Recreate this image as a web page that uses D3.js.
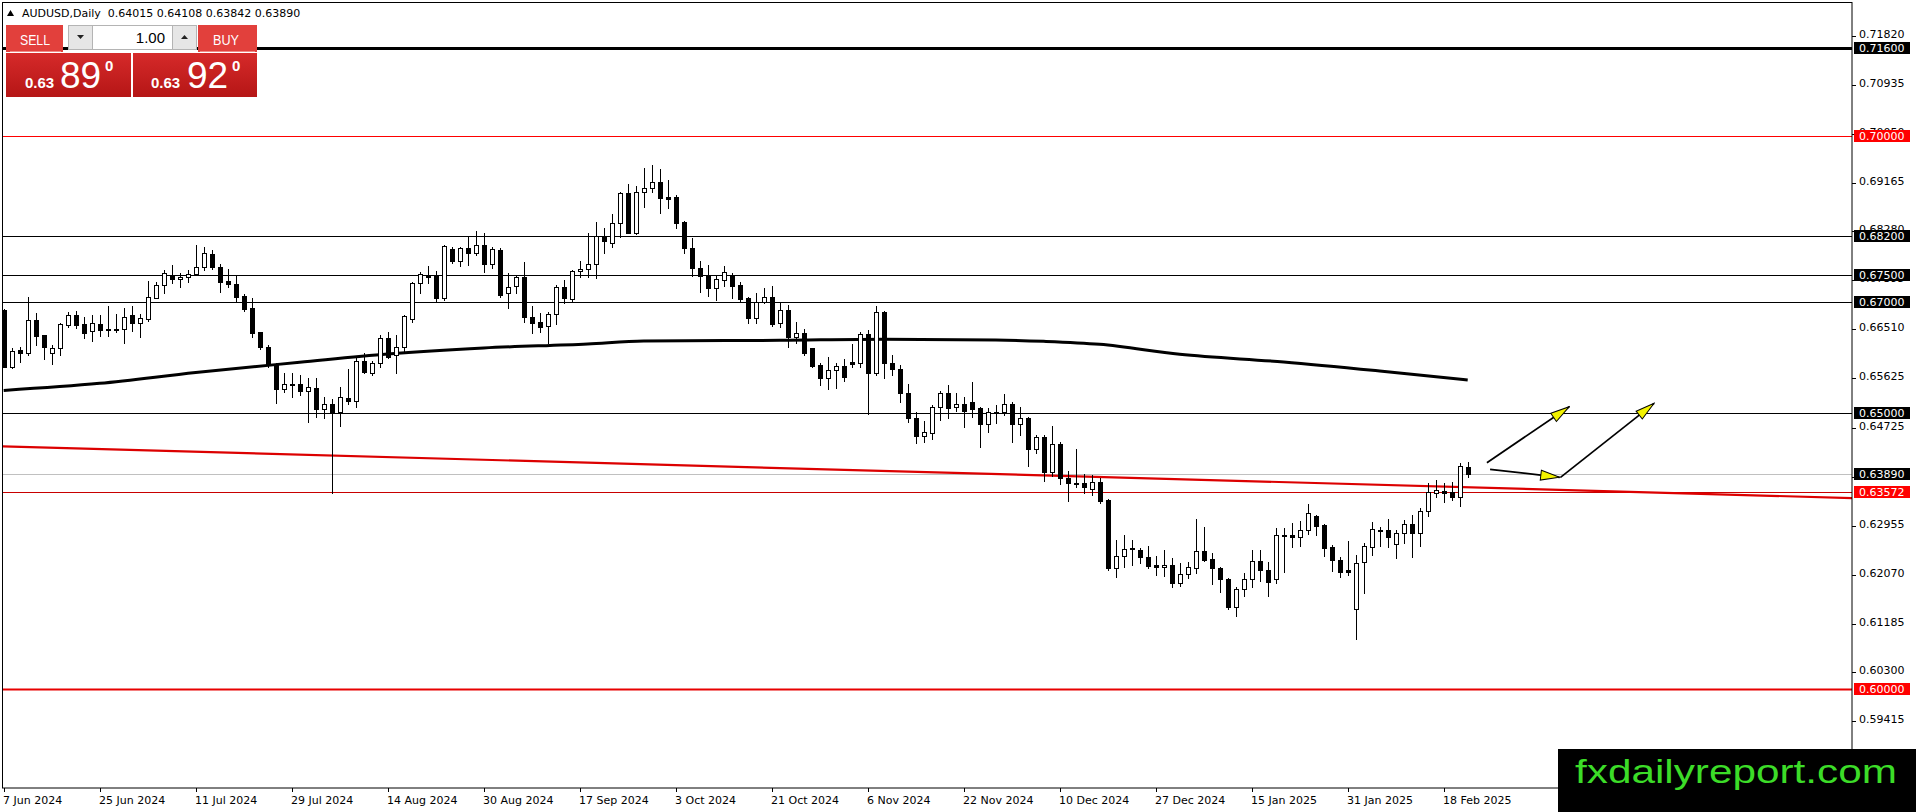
<!DOCTYPE html>
<html>
<head>
<meta charset="utf-8">
<script src="https://cdn.jsdelivr.net/npm/d3@7"></script>
<style>
  body { margin: 0; background: #fff; }
  svg { display: block; }
  text { font-family: "DejaVu Sans", sans-serif; }
  text.arial { font-family: "Liberation Sans", Arial, sans-serif; }
</style>
</head>
<body>
<div id="chart"></div>
<script>
// DATA (daily bars, AUDUSD)

var dateLabels = ["7 Jun 2024", "25 Jun 2024", "11 Jul 2024", "29 Jul 2024", "14 Aug 2024", "30 Aug 2024",
  "17 Sep 2024", "3 Oct 2024", "21 Oct 2024", "6 Nov 2024", "22 Nov 2024", "10 Dec 2024",
  "27 Dec 2024", "15 Jan 2025", "31 Jan 2025", "18 Feb 2025"];
var dateLabelBars = [0, 12, 24, 36, 48, 60, 72, 84, 96, 108, 120, 132, 144, 156, 168, 180];

var open = [
  0.66859, 0.65833, 0.66135, 0.66087, 0.66678, 0.66406, 0.66087, 0.66165, 0.66593, 0.66762,
  0.66605, 0.66485, 0.66599, 0.66515, 0.66503, 0.66509, 0.66762, 0.66630, 0.66696, 0.67082,
  0.67311, 0.67492, 0.67414, 0.67450, 0.67504, 0.67631, 0.67872, 0.67631, 0.67384, 0.67329,
  0.67112, 0.66889, 0.66455, 0.66183, 0.65864, 0.65424, 0.65514, 0.65513, 0.65399, 0.65441,
  0.65061, 0.65151, 0.65013, 0.65260, 0.65218, 0.65942, 0.65725, 0.65893, 0.66346, 0.66038,
  0.66183, 0.66690, 0.67341, 0.67486, 0.67486, 0.67070, 0.67956, 0.67751, 0.67974, 0.67884,
  0.68035, 0.67685, 0.67944, 0.67160, 0.67293, 0.67450, 0.66726, 0.66647, 0.66569, 0.66786,
  0.67269, 0.67052, 0.67558, 0.67594, 0.67685, 0.68174, 0.68065, 0.68427, 0.68970, 0.68258,
  0.69000, 0.69060, 0.69169, 0.68897, 0.68897, 0.68445, 0.67975, 0.67613, 0.67492, 0.67251,
  0.67402, 0.67492, 0.67311, 0.67082, 0.66708, 0.67009, 0.67100, 0.66617, 0.66859, 0.66376,
  0.66436, 0.66165, 0.65863, 0.65622, 0.65773, 0.65845, 0.65918, 0.65894, 0.66424, 0.65725,
  0.66830, 0.65906, 0.65785, 0.65363, 0.64899, 0.64579, 0.64627, 0.65110, 0.65351, 0.65098,
  0.65152, 0.65188, 0.65080, 0.64790, 0.65019, 0.65019, 0.65152, 0.64790, 0.64899, 0.64338,
  0.64567, 0.63934, 0.64428, 0.63813, 0.63728, 0.63722, 0.63614, 0.63740, 0.63421, 0.62184,
  0.62407, 0.62546, 0.62516, 0.62383, 0.62245, 0.62202, 0.62245, 0.61912, 0.62075, 0.62184,
  0.62497, 0.62352, 0.62196, 0.61985, 0.61490, 0.61804, 0.61985, 0.62316, 0.62154, 0.61985,
  0.62787, 0.62787, 0.62757, 0.62877, 0.63131, 0.62968, 0.62576, 0.62334, 0.62154, 0.61442,
  0.62304, 0.62576, 0.62877, 0.62877, 0.62618, 0.62817, 0.62980, 0.62829, 0.63221, 0.63541,
  0.63589, 0.63571, 0.63481, 0.64015];
var high = [
  0.66871, 0.66165, 0.66195, 0.67100, 0.66799, 0.66406, 0.66225, 0.66630, 0.66829, 0.66847,
  0.66738, 0.66768, 0.66768, 0.66931, 0.66786, 0.66889, 0.66931, 0.66786, 0.67384, 0.67372,
  0.67583, 0.67673, 0.67522, 0.67583, 0.68035, 0.67993, 0.67945, 0.67691, 0.67595, 0.67492,
  0.67148, 0.67070, 0.66467, 0.66225, 0.65894, 0.65725, 0.65725, 0.65682, 0.65622, 0.65634,
  0.65290, 0.65242, 0.65459, 0.65785, 0.66014, 0.66086, 0.65942, 0.66406, 0.66467, 0.66406,
  0.66768, 0.67371, 0.67552, 0.67661, 0.67570, 0.68035, 0.68005, 0.68005, 0.68173, 0.68288,
  0.68246, 0.68005, 0.67974, 0.67534, 0.67492, 0.67733, 0.66931, 0.66810, 0.66828, 0.67311,
  0.67401, 0.67582, 0.67745, 0.68258, 0.68457, 0.68336, 0.68596, 0.69000, 0.69139, 0.69103,
  0.69434, 0.69483, 0.69404, 0.69211, 0.68940, 0.68475, 0.68156, 0.67745, 0.67673, 0.67474,
  0.67655, 0.67522, 0.67371, 0.67100, 0.67160, 0.67251, 0.67293, 0.66979, 0.66949, 0.66648,
  0.66509, 0.66165, 0.65894, 0.66002, 0.65894, 0.65966, 0.66243, 0.66467, 0.66497, 0.66931,
  0.66847, 0.66045, 0.65864, 0.65520, 0.65019, 0.64856, 0.65140, 0.65399, 0.65502, 0.65363,
  0.65279, 0.65562, 0.65110, 0.65080, 0.65140, 0.65339, 0.65200, 0.65110, 0.64929, 0.64597,
  0.64597, 0.64760, 0.64476, 0.63952, 0.64338, 0.63891, 0.63873, 0.63813, 0.63433, 0.62697,
  0.62788, 0.62697, 0.62546, 0.62588, 0.62407, 0.62516, 0.62365, 0.62274, 0.62304, 0.63070,
  0.62926, 0.62455, 0.62214, 0.62003, 0.61852, 0.62105, 0.62515, 0.62515, 0.62304, 0.62908,
  0.62908, 0.62998, 0.63046, 0.63348, 0.63149, 0.62986, 0.62606, 0.62383, 0.62684, 0.62425,
  0.62648, 0.63028, 0.62938, 0.63070, 0.62877, 0.63058, 0.63149, 0.63269, 0.63722, 0.63782,
  0.63734, 0.63740, 0.64084, 0.64108];
var low = [
  0.65821, 0.65803, 0.65924, 0.66044, 0.66225, 0.65966, 0.65882, 0.66044, 0.66557, 0.66527,
  0.66358, 0.66304, 0.66388, 0.66388, 0.66467, 0.66256, 0.66485, 0.66376, 0.66666, 0.67070,
  0.67160, 0.67341, 0.67281, 0.67372, 0.67492, 0.67583, 0.67595, 0.67191, 0.67269, 0.67022,
  0.66847, 0.66364, 0.66159, 0.65833, 0.65182, 0.65381, 0.65291, 0.65320, 0.64838, 0.64928,
  0.64898, 0.63541, 0.64759, 0.65157, 0.65109, 0.65713, 0.65682, 0.65833, 0.65984, 0.65725,
  0.66104, 0.66647, 0.67172, 0.67341, 0.67021, 0.67040, 0.67715, 0.67661, 0.67673, 0.67854,
  0.67552, 0.67613, 0.67100, 0.66901, 0.67172, 0.66647, 0.66448, 0.66466, 0.66267, 0.66605,
  0.66979, 0.67028, 0.67450, 0.67462, 0.67432, 0.67884, 0.68005, 0.68186, 0.68246, 0.68234,
  0.68729, 0.69000, 0.68608, 0.68698, 0.68349, 0.67896, 0.67474, 0.67190, 0.67118, 0.67040,
  0.67293, 0.67070, 0.67028, 0.66629, 0.66629, 0.66979, 0.66569, 0.66557, 0.66183, 0.66255,
  0.66044, 0.65833, 0.65501, 0.65423, 0.65441, 0.65580, 0.65833, 0.65833, 0.64970, 0.65682,
  0.65622, 0.65683, 0.65200, 0.64838, 0.64446, 0.64476, 0.64519, 0.64868, 0.64899, 0.65037,
  0.64748, 0.64917, 0.64386, 0.64657, 0.64820, 0.64959, 0.64476, 0.64597, 0.64042, 0.64265,
  0.63771, 0.63855, 0.63704, 0.63409, 0.63662, 0.63553, 0.63511, 0.63360, 0.62154, 0.62034,
  0.62214, 0.62245, 0.62287, 0.62184, 0.62064, 0.62046, 0.61840, 0.61864, 0.62003, 0.62105,
  0.62322, 0.61900, 0.61761, 0.61442, 0.61327, 0.61683, 0.61852, 0.61961, 0.61683, 0.61924,
  0.62123, 0.62576, 0.62588, 0.62805, 0.62787, 0.62407, 0.62141, 0.62033, 0.62063, 0.60905,
  0.61743, 0.62425, 0.62588, 0.62576, 0.62377, 0.62648, 0.62395, 0.62588, 0.63131, 0.63469,
  0.63390, 0.63420, 0.63318, 0.63842];
var close = [
  0.65833, 0.66123, 0.66087, 0.66678, 0.66388, 0.66183, 0.66165, 0.66605, 0.66762, 0.66593,
  0.66449, 0.66618, 0.66497, 0.66503, 0.66515, 0.66726, 0.66630, 0.66708, 0.67088, 0.67311,
  0.67522, 0.67414, 0.67450, 0.67510, 0.67631, 0.67884, 0.67631, 0.67372, 0.67323, 0.67100,
  0.66883, 0.66449, 0.66183, 0.65864, 0.65424, 0.65514, 0.65496, 0.65399, 0.65459, 0.65061,
  0.65151, 0.65007, 0.65278, 0.65218, 0.65942, 0.65743, 0.65893, 0.66346, 0.66014, 0.66183,
  0.66750, 0.67341, 0.67510, 0.67462, 0.67070, 0.68017, 0.67751, 0.67974, 0.67884, 0.68035,
  0.67685, 0.67956, 0.67130, 0.67281, 0.67450, 0.66738, 0.66629, 0.66557, 0.66786, 0.67269,
  0.67082, 0.67564, 0.67594, 0.67685, 0.68198, 0.68113, 0.68427, 0.68970, 0.68258, 0.69000,
  0.69060, 0.69169, 0.68879, 0.68873, 0.68439, 0.67987, 0.67613, 0.67480, 0.67251, 0.67414,
  0.67552, 0.67299, 0.67058, 0.66708, 0.67003, 0.67100, 0.66605, 0.66859, 0.66376, 0.66436,
  0.66074, 0.65845, 0.65622, 0.65773, 0.65845, 0.65640, 0.65875, 0.66424, 0.65725, 0.66828,
  0.65894, 0.65785, 0.65363, 0.64899, 0.64579, 0.64657, 0.65110, 0.65351, 0.65092, 0.65152,
  0.65037, 0.65074, 0.64790, 0.65019, 0.65001, 0.65152, 0.64790, 0.64899, 0.64338, 0.64567,
  0.63934, 0.64428, 0.63813, 0.63722, 0.63716, 0.63650, 0.63740, 0.63409, 0.62184, 0.62407,
  0.62528, 0.62528, 0.62383, 0.62227, 0.62202, 0.62245, 0.61925, 0.62075, 0.62202, 0.62497,
  0.62334, 0.62184, 0.61985, 0.61490, 0.61804, 0.61985, 0.62316, 0.62154, 0.61942, 0.62787,
  0.62769, 0.62757, 0.62877, 0.63179, 0.62956, 0.62558, 0.62334, 0.62123, 0.62123, 0.62286,
  0.62588, 0.62889, 0.62865, 0.62757, 0.62817, 0.62980, 0.62829, 0.63221, 0.63559, 0.63601,
  0.63553, 0.63481, 0.64030, 0.63890];

// moving average read at a few bars
var maBars = [0, 12, 24, 37, 48, 60, 73, 80, 97, 110, 124, 130, 137, 147, 160, 172, 183];
var maValues = [0.65404, 0.65532, 0.65728, 0.65912, 0.66062, 0.66171, 0.66244, 0.66298, 0.66310,
  0.66329, 0.66316, 0.66292, 0.66238, 0.66057, 0.65918, 0.65755, 0.65592];

// price levels drawn on the chart
var levelPrices = [0.71600, 0.70000, 0.68200, 0.67500, 0.67000, 0.65000, 0.63890, 0.63572, 0.60000];
var levelKinds = ["heavy", "red", "line", "line", "line", "line", "bid", "darkred", "redwide"];

// trend line anchors [bar, price]
var trendBars = [0, 183];
var trendPrices = [0.64392, 0.63650];

// arrows [bar, price] start and end
var arrowFrom = [[185.4, 0.64095], [185.8, 0.63976], [194.6, 0.63831]];
var arrowTo = [[195.7, 0.65109], [194.5, 0.63831], [206.3, 0.65170]];

// price axis tick labels
var priceTicks = [0.71820, 0.70935, 0.70050, 0.69165, 0.68280, 0.67395, 0.66510, 0.65625,
  0.64725, 0.63840, 0.62955, 0.62070, 0.61185, 0.60300, 0.59415];

var header = "AUDUSD,Daily  0.64015 0.64108 0.63842 0.63890";


// SETUP

var width = 1916;
var height = 812;
var plotRight = 1852;
var plotBottom = 788;

var svg = d3.select("#chart").append("svg")
  .attr("width", width)
  .attr("height", height);

svg.append("rect").attr("width", width).attr("height", height).attr("fill", "#fff");

var defs = svg.append("defs");

var x = d3.scaleLinear()
  .domain([0, 231])
  .range([3.7, 1851.7]);

var y = d3.scaleLinear()
  .domain([0.600, 0.716])
  .range([689, 48]);

defs.append("clipPath").attr("id", "plotclip")
  .append("rect")
  .attr("x", 3).attr("y", 3)
  .attr("width", plotRight - 3).attr("height", plotBottom - 3);

var plot = svg.append("g").attr("clip-path", "url(#plotclip)");

var levelStyle = {
  heavy:   {color: "#000", w: 3, box: "#000"},
  red:     {color: "#ff0000", w: 1, box: "#ff0000"},
  line:    {color: "#000", w: 1, box: "#000"},
  bid:     {color: "#c0c0c0", w: 1, box: "#000"},
  darkred: {color: "#c80000", w: 1, box: "#ff0000"},
  redwide: {color: "#e80000", w: 2, box: "#ff0000"}
};

function py(p) { return Math.round(y(p)) + 0.5; }


// LEVEL LINES

plot.selectAll("line.level").data(levelPrices)
  .enter().append("line")
  .attr("class", "level")
  .attr("x1", 0).attr("x2", plotRight)
  .attr("y1", function(d) { return py(d); })
  .attr("y2", function(d) { return py(d); })
  .attr("stroke", function(d, i) { return levelStyle[levelKinds[i]].color; })
  .attr("stroke-width", function(d, i) { return levelStyle[levelKinds[i]].w; });


// TREND LINE (ray to the right edge)

var slope = (trendPrices[1] - trendPrices[0]) / (trendBars[1] - trendBars[0]);
var tLeft = x.invert(0), tRight = x.invert(plotRight);
plot.append("line")
  .attr("x1", x(tLeft))
  .attr("y1", y(trendPrices[0] + slope * (tLeft - trendBars[0])))
  .attr("x2", x(tRight))
  .attr("y2", y(trendPrices[0] + slope * (tRight - trendBars[0])))
  .attr("stroke", "#dc0000")
  .attr("stroke-width", 2.2);


// MOVING AVERAGE

var maLine = d3.line()
  .x(function(d, i) { return x(maBars[i]); })
  .y(function(d) { return y(d); })
  .curve(d3.curveMonotoneX);

plot.append("path")
  .attr("d", maLine(maValues))
  .attr("fill", "none")
  .attr("stroke", "#000")
  .attr("stroke-width", 3);


// CANDLES

var candles = plot.selectAll("g.bar").data(open)
  .enter().append("g")
  .attr("class", "bar");

candles.append("line")
  .attr("x1", function(d, i) { return Math.round(x(i)) + 0.5; })
  .attr("x2", function(d, i) { return Math.round(x(i)) + 0.5; })
  .attr("y1", function(d, i) { return Math.round(y(high[i])); })
  .attr("y2", function(d, i) { return Math.round(y(low[i])) + 1; })
  .attr("stroke", "#000")
  .attr("stroke-width", 1);

candles.append("rect")
  .attr("x", function(d, i) { return Math.round(x(i)) - 2 + 0.5; })
  .attr("y", function(d, i) { return Math.round(y(Math.max(open[i], close[i]))) + 0.5; })
  .attr("width", 4)
  .attr("height", function(d, i) {
    return Math.max(0, Math.round(y(Math.min(open[i], close[i]))) - Math.round(y(Math.max(open[i], close[i]))));
  })
  .attr("fill", function(d, i) { return close[i] < open[i] ? "#000" : "#fff"; })
  .attr("stroke", "#000")
  .attr("stroke-width", 1);


// ARROWS

defs.append("marker")
  .attr("id", "head")
  .attr("viewBox", "0 0 21 12")
  .attr("refX", 20).attr("refY", 6)
  .attr("markerWidth", 21).attr("markerHeight", 12)
  .attr("markerUnits", "userSpaceOnUse")
  .attr("orient", "auto")
  .append("path")
  .attr("d", "M1,1 L20,6 L1,11 Z")
  .attr("fill", "#f2f200")
  .attr("stroke", "#000")
  .attr("stroke-width", 1);

plot.selectAll("line.arrow").data(arrowFrom)
  .enter().append("line")
  .attr("class", "arrow")
  .attr("x1", function(d) { return x(d[0]); })
  .attr("y1", function(d) { return y(d[1]); })
  .attr("x2", function(d, i) { return x(arrowTo[i][0]); })
  .attr("y2", function(d, i) { return y(arrowTo[i][1]); })
  .attr("stroke", "#000")
  .attr("stroke-width", 1.7)
  .attr("marker-end", "url(#head)");


// FRAME

svg.append("rect")
  .attr("x", 2.5).attr("y", 2.5)
  .attr("width", plotRight - 2.5).attr("height", plotBottom - 2.5)
  .attr("fill", "none")
  .attr("stroke", "#000")
  .attr("stroke-width", 1);


// PRICE AXIS

var yTicks = svg.append("g");
yTicks.selectAll("line").data(priceTicks)
  .enter().append("line")
  .attr("x1", plotRight).attr("x2", plotRight + 4)
  .attr("y1", function(d) { return py(d); })
  .attr("y2", function(d) { return py(d); })
  .attr("stroke", "#000");
yTicks.selectAll("text").data(priceTicks)
  .enter().append("text")
  .attr("x", plotRight + 7)
  .attr("y", function(d) { return y(d) + 2; })
  .style("font-size", "11px")
  .attr("fill", "#000")
  .text(function(d) { return d.toFixed(5); });

var boxes = svg.selectAll("g.lvl").data(levelPrices)
  .enter().append("g").attr("class", "lvl");
boxes.append("rect")
  .attr("x", plotRight + 2)
  .attr("y", function(d) { return Math.round(y(d)) - 6; })
  .attr("width", 56).attr("height", 12)
  .attr("fill", function(d, i) { return levelStyle[levelKinds[i]].box; });
boxes.append("text")
  .attr("x", plotRight + 7)
  .attr("y", function(d) { return Math.round(y(d)) + 4; })
  .style("font-size", "11px")
  .attr("fill", "#fff")
  .text(function(d) { return d.toFixed(5); });


// DATE AXIS

var xTicks = svg.append("g");
xTicks.selectAll("line").data(dateLabelBars)
  .enter().append("line")
  .attr("x1", function(d) { return Math.round(x(d)) + 0.5; })
  .attr("x2", function(d) { return Math.round(x(d)) + 0.5; })
  .attr("y1", plotBottom).attr("y2", plotBottom + 4)
  .attr("stroke", "#000");
xTicks.selectAll("text").data(dateLabelBars)
  .enter().append("text")
  .attr("x", function(d) { return Math.round(x(d)) - 1; })
  .attr("y", 804)
  .style("font-size", "11px")
  .attr("fill", "#000")
  .text(function(d, i) { return dateLabels[i]; });


// HEADER

svg.append("path").attr("d", "M7,16 L14,16 L10.5,10 Z").attr("fill", "#000");
svg.append("text")
  .attr("x", 22).attr("y", 17)
  .style("font-size", "11px")
  .attr("fill", "#000")
  .attr("xml:space", "preserve")
  .text(header);


// ONE CLICK PANEL

var grad = defs.append("linearGradient")
  .attr("id", "pricegrad").attr("x1", 0).attr("y1", 0).attr("x2", 0).attr("y2", 1);
grad.append("stop").attr("offset", "0%").attr("stop-color", "#d62a2a");
grad.append("stop").attr("offset", "100%").attr("stop-color", "#b51616");

var panel = svg.append("g");

// labels
panel.append("rect").attr("x", 6).attr("y", 25).attr("width", 57).attr("height", 27).attr("fill", "#e2403c");
panel.append("rect").attr("x", 198).attr("y", 25).attr("width", 59).attr("height", 27).attr("fill", "#e2403c");
panel.append("line").attr("x1", 10).attr("x2", 61).attr("y1", 51.5).attr("y2", 51.5).attr("stroke", "#f08a86");
panel.append("line").attr("x1", 200).attr("x2", 255).attr("y1", 51.5).attr("y2", 51.5).attr("stroke", "#f08a86");
panel.append("text").attr("class", "arial").attr("x", 20).attr("y", 45).attr("fill", "#fff")
  .style("font-size", "15px").attr("textLength", 30).attr("lengthAdjust", "spacingAndGlyphs").text("SELL");
panel.append("text").attr("class", "arial").attr("x", 213).attr("y", 45).attr("fill", "#fff")
  .style("font-size", "15px").attr("textLength", 26).attr("lengthAdjust", "spacingAndGlyphs").text("BUY");

// lot spinner
panel.append("rect").attr("x", 68.5).attr("y", 25.5).attr("width", 24).attr("height", 24)
  .attr("fill", "#e6e6e6").attr("stroke", "#b4b4b4");
panel.append("rect").attr("x", 92.5).attr("y", 25.5).attr("width", 80).attr("height", 24)
  .attr("fill", "#fff").attr("stroke", "#b4b4b4");
panel.append("rect").attr("x", 172.5).attr("y", 25.5).attr("width", 24).attr("height", 24)
  .attr("fill", "#e6e6e6").attr("stroke", "#b4b4b4");
panel.append("path").attr("d", "M77,35 L84,35 L80.5,39 Z").attr("fill", "#222");
panel.append("path").attr("d", "M181,39 L188,39 L184.5,35 Z").attr("fill", "#222");
panel.append("text").attr("class", "arial").attr("x", 165).attr("y", 43).attr("text-anchor", "end")
  .style("font-size", "15px").attr("fill", "#000").text("1.00");

// prices
panel.append("rect").attr("x", 6).attr("y", 53).attr("width", 125).attr("height", 44).attr("fill", "url(#pricegrad)");
panel.append("rect").attr("x", 133).attr("y", 53).attr("width", 124).attr("height", 44).attr("fill", "url(#pricegrad)");

panel.append("text").attr("class", "arial").attr("x", 25).attr("y", 88).attr("fill", "#fff")
  .style("font-size", "15px").style("font-weight", "bold").text("0.63");
panel.append("text").attr("class", "arial").attr("x", 60).attr("y", 88).attr("fill", "#fff")
  .style("font-size", "37px").text("89");
panel.append("text").attr("class", "arial").attr("x", 105).attr("y", 71).attr("fill", "#fff")
  .style("font-size", "15px").style("font-weight", "bold").text("0");

panel.append("text").attr("class", "arial").attr("x", 151).attr("y", 88).attr("fill", "#fff")
  .style("font-size", "15px").style("font-weight", "bold").text("0.63");
panel.append("text").attr("class", "arial").attr("x", 187).attr("y", 88).attr("fill", "#fff")
  .style("font-size", "37px").text("92");
panel.append("text").attr("class", "arial").attr("x", 232).attr("y", 71).attr("fill", "#fff")
  .style("font-size", "15px").style("font-weight", "bold").text("0");


// WATERMARK

svg.append("rect")
  .attr("x", 1558).attr("y", 749)
  .attr("width", width - 1558).attr("height", height - 749)
  .attr("fill", "#000");
svg.append("text")
  .attr("class", "arial")
  .attr("x", 1575).attr("y", 783)
  .style("font-size", "34px")
  .attr("textLength", 322)
  .attr("lengthAdjust", "spacingAndGlyphs")
  .attr("fill", "#3cdc28")
  .text("fxdailyreport.com");
</script>
</body>
</html>
